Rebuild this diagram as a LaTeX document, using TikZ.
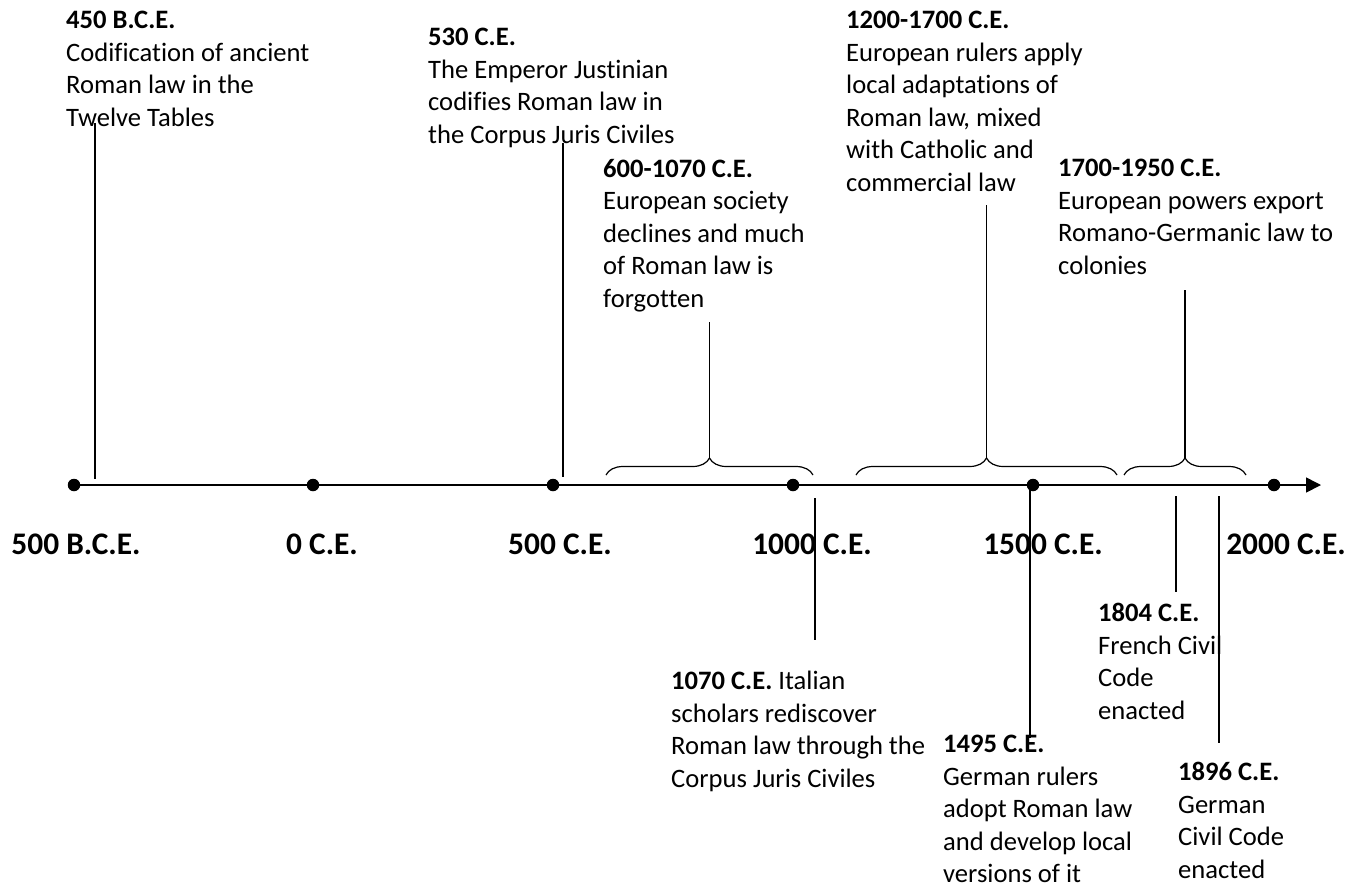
\documentclass[tikz,border=0pt]{standalone}
\usepackage{fontspec}
\setmainfont{Carlito}[Ligatures=NoCommon]
\usetikzlibrary{arrows.meta,decorations.pathreplacing}

\begin{document}
\begin{tikzpicture}[x=1pt, y=-1pt,
  evt/.style={anchor=north west, align=left, inner sep=0pt, font=\fontsize{26.6}{32.5}\selectfont},
  yr/.style={anchor=base, inner sep=0pt, font=\fontsize{31.4}{38}\selectfont\bfseries},
  dot/.style={circle, fill=black, inner sep=0pt, minimum size=12.5pt},
  lead/.style={line width=1.2pt},
  brc/.style={decorate, decoration={brace, amplitude=17pt}, line width=1.2pt}]
  \useasboundingbox (0,0) rectangle (1356,884);

  % Time axis and its dots.
  \coordinate (axstart) at (74,485);
  \coordinate (axend) at (1321,485);
  \draw[line width=1.6pt, -{Triangle[length=15pt, width=15pt]}] (axstart) -- (axend);
  \node[dot] (d500bce) at (74,485) {};
  \node[dot] (d0) at (313,485) {};
  \node[dot] (d500) at (553,485) {};
  \node[dot] (d1000) at (793,485) {};
  \node[dot] (d1500) at (1033,485) {};
  \node[dot] (d2000) at (1274,485) {};

  \node[yr] (y500bce) at (76,554) {500 B.C.E.};
  \node[yr] (y0) at (322,554) {0 C.E.};
  \node[yr] (y500) at (560,554) {500 C.E.};
  \node[yr] (y1000) at (812,554) {1000 C.E.};
  \node[yr] (y1500) at (1043,554) {1500 C.E.};
  \node[yr] (y2000) at (1286,554) {2000 C.E.};

  % Events above the axis.
  \node[evt] (e450bce) at (66,11) {\textbf{450 B.C.E.}\\Codification of ancient\\Roman law in the\\Twelve Tables};
  \node[evt] (e530) at (428,28) {\textbf{530 C.E.}\\The Emperor Justinian\\codifies Roman law in\\the Corpus Juris Civiles};
  \node[evt] (e600) at (603,159) {\textbf{600-1070 C.E.}\\European society\\declines and much\\of Roman law is\\forgotten};
  \node[evt] (e1200) at (846,11) {\textbf{1200-1700 C.E.}\\European rulers apply\\local adaptations of\\Roman law, mixed\\with Catholic and\\commercial law};
  \node[evt] (e1700) at (1058,159) {\textbf{1700-1950 C.E.}\\European powers export\\Romano-Germanic law to\\colonies};

  \coordinate (l450top) at (95,123);   \coordinate (l450ax) at (95,479);
  \coordinate (l530top) at (563,143);  \coordinate (l530ax) at (563,477);
  \draw[lead] (l450top) -- (l450ax);
  \draw[lead] (l530top) -- (l530ax);

  % Periods marked with braces.
  \coordinate (b1l) at (606,475); \coordinate (b1r) at (813,475);
  \coordinate (b2l) at (856,475); \coordinate (b2r) at (1117,475);
  \coordinate (b3l) at (1124,475); \coordinate (b3r) at (1246,475);
  \draw[brc] (b1l) -- (b1r);
  \draw[brc] (b2l) -- (b2r);
  \draw[brc] (b3l) -- (b3r);
  \coordinate (b1tip) at (709.5,458); \coordinate (b1top) at (709.5,322);
  \coordinate (b2tip) at (986.5,458); \coordinate (b2top) at (986.5,205);
  \coordinate (b3tip) at (1185,458);  \coordinate (b3top) at (1185,290);
  \draw[lead] (b1tip) -- (b1top);
  \draw[lead] (b2tip) -- (b2top);
  \draw[lead] (b3tip) -- (b3top);

  % Events below the axis.
  \node[evt] (e1070) at (671,671) {\textbf{1070 C.E.} Italian\\scholars rediscover\\Roman law through the\\Corpus Juris Civiles};
  \node[evt] (e1495) at (943,735) {\textbf{1495 C.E.}\\German rulers\\adopt Roman law\\and develop local\\versions of it};
  \node[evt] (e1804) at (1098,603) {\textbf{1804 C.E.}\\French Civil\\Code\\enacted};
  \node[evt] (e1896) at (1178,762) {\textbf{1896 C.E.}\\German\\Civil Code\\enacted};

  \coordinate (l1070ax) at (815,498);  \coordinate (l1070bot) at (815,640);
  \coordinate (l1495ax) at (1030,480); \coordinate (l1495bot) at (1030,738);
  \coordinate (l1804ax) at (1176,496); \coordinate (l1804bot) at (1176,592);
  \coordinate (l1896ax) at (1219,496); \coordinate (l1896bot) at (1219,743);
  \draw[lead] (l1070ax) -- (l1070bot);
  \draw[lead] (l1495ax) -- (l1495bot);
  \draw[lead] (l1804ax) -- (l1804bot);
  \draw[lead] (l1896ax) -- (l1896bot);
\end{tikzpicture}
\end{document}
